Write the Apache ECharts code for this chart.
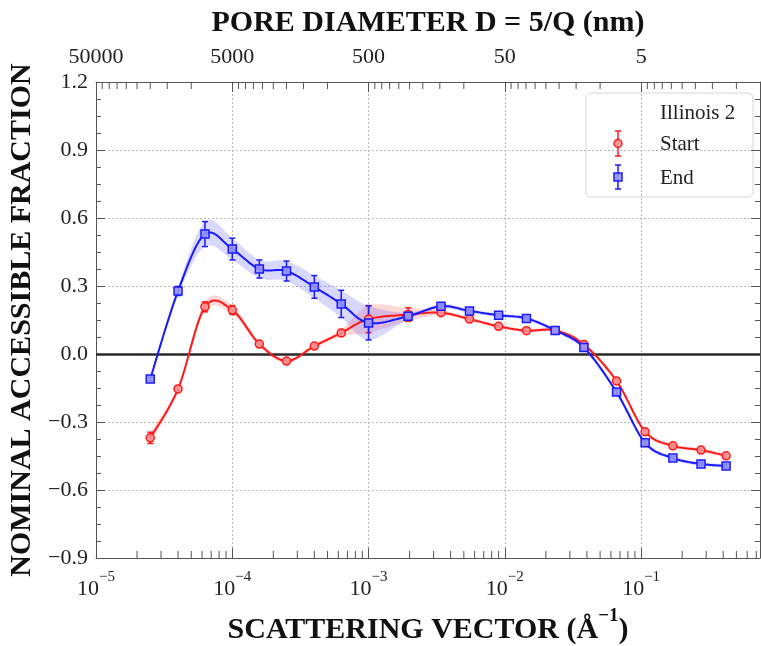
<!DOCTYPE html>
<html>
<head>
<meta charset="utf-8">
<script src="https://cdn.jsdelivr.net/npm/echarts@6/dist/echarts.min.js"></script>
<style>
html, body { margin: 0; padding: 0; background: #fff; }
#chart { width: 761px; height: 646px; }
</style>
</head>
<body>
<div id="chart"></div>
<script>
// Scattering vector Q (1/Å) of each measurement
const q = [2.5e-5, 4e-5, 6.3e-5, 1e-4, 1.58e-4, 2.5e-4, 4e-4, 6.3e-4, 1e-3, 1.95e-3,
           3.4e-3, 5.5e-3, 9e-3, 1.44e-2, 2.34e-2, 3.8e-2, 6.6e-2, 0.107, 0.171, 0.275, 0.42];

// Nominal accessible fraction, start of run
const startVals = [-0.37, -0.154, 0.208, 0.194, 0.044, -0.031, 0.035, 0.093, 0.154, 0.174,
                   0.182, 0.154, 0.122, 0.103, 0.104, 0.042, -0.119, -0.343, -0.405, -0.424, -0.449];
const startErr  = [0.025, 0.012, 0.022, 0.02, 0.012, 0.01, 0.01, 0.015, 0.06, 0.03,
                   0.01, 0.008, 0.008, 0.008, 0.008, 0.008, 0.01, 0.01, 0.008, 0.008, 0.008];

// Nominal accessible fraction, end of run
const endVals = [-0.11, 0.278, 0.529, 0.463, 0.375, 0.366, 0.296, 0.221, 0.137, 0.167,
                 0.211, 0.19, 0.171, 0.157, 0.104, 0.029, -0.168, -0.392, -0.459, -0.485, -0.494];
const endErr  = [0.008, 0.02, 0.055, 0.048, 0.04, 0.044, 0.05, 0.06, 0.075, 0.015,
                 0.01, 0.008, 0.008, 0.008, 0.008, 0.01, 0.01, 0.01, 0.008, 0.008, 0.008];

// Axis ranges and labels
const Q_MIN = 1e-5, Q_MAX = 0.745;
const Y_MIN = -0.9, Y_MAX = 1.2, Y_STEP = 0.3;
const seriesNames = ['Start', 'End'];
const legendTitle = 'Illinois 2';

const RED = '#ff1a1a', BLUE = '#1a1aff';
const RED_FILL = 'rgba(255,150,150,0.9)', BLUE_FILL = 'rgba(150,150,255,0.9)';
const FONT = '"Liberation Serif", "Times New Roman", serif';
const AXIS_COLOR = '#555';

// Minor tick positions: 2..9 × 10^n along Q (bottom), and D = 5/Q multiples along the top
const bottomMinor = [], topMinor = [];
for (let e = -5; e <= 0; e++) {
  for (let m = 2; m <= 9; m++) {
    const b = m * Math.pow(10, e);
    if (b > Q_MIN && b < Q_MAX) bottomMinor.push([b]);
    const t = Math.pow(10, e + 1) / m;
    if (t > Q_MIN && t < Q_MAX) topMinor.push([t]);
  }
}

const zip = (xs, ys) => xs.map((x, i) => [x, ys[i]]);
const decadeExp = v => {
  const l = Math.log10(v);
  return Math.abs(l - Math.round(l)) < 1e-6 ? Math.round(l) : null;
};

// Cubic (Catmull-Rom) interpolation through pixel points, sampled into a dense polyline
function sampleSpline(pts, steps) {
  const out = [pts[0]];
  const n = pts.length;
  for (let i = 0; i < n - 1; i++) {
    const p0 = pts[Math.max(i - 1, 0)], p1 = pts[i], p2 = pts[i + 1], p3 = pts[Math.min(i + 2, n - 1)];
    const c1 = [p1[0] + (p2[0] - p0[0]) / 6, p1[1] + (p2[1] - p0[1]) / 6];
    const c2 = [p2[0] - (p3[0] - p1[0]) / 6, p2[1] - (p3[1] - p1[1]) / 6];
    for (let s = 1; s <= steps; s++) {
      const t = s / steps, u = 1 - t;
      const a = u * u * u, b = 3 * u * u * t, c = 3 * u * t * t, d = t * t * t;
      out.push([a * p1[0] + b * c1[0] + c * c2[0] + d * p2[0],
                a * p1[1] + b * c1[1] + c * c2[1] + d * p2[1]]);
    }
  }
  return out;
}

function curveSeries(vals, color) {
  return {
    type: 'custom', silent: true, z: 3,
    data: [[q[0], vals[0]]], encode: { x: 0, y: 1 },
    renderItem(params, api) {
      const pts = q.map((x, i) => api.coord([x, vals[i]]));
      return {
        type: 'polyline',
        shape: { points: sampleSpline(pts, 16) },
        style: { stroke: color, lineWidth: 2, fill: null, lineJoin: 'round' }
      };
    }
  };
}

function bandSeries(vals, errs, color) {
  return {
    type: 'custom', silent: true, z: 1,
    data: [[q[0], vals[0]]], encode: { x: 0, y: 1 },
    renderItem(params, api) {
      const up = sampleSpline(q.map((x, i) => api.coord([x, vals[i] + errs[i]])), 16);
      const lo = sampleSpline(q.map((x, i) => api.coord([x, vals[i] - errs[i]])), 16);
      return {
        type: 'polygon',
        shape: { points: up.concat(lo.reverse()) },
        style: { fill: color, stroke: null }
      };
    }
  };
}

function errorBarSeries(vals, errs, color) {
  return {
    type: 'custom', silent: true, z: 4,
    data: q.map((x, i) => [x, vals[i], errs[i]]),
    encode: { x: 0, y: 1 },
    renderItem(params, api) {
      const x = api.value(0), y = api.value(1), e = api.value(2);
      const top = api.coord([x, y + e]);
      const bot = api.coord([x, y - e]);
      const cx = top[0], cap = 3;
      const st = { stroke: color, lineWidth: 1.5 };
      return {
        type: 'group',
        children: [
          { type: 'line', shape: { x1: cx, y1: top[1], x2: cx, y2: bot[1] }, style: st },
          { type: 'line', shape: { x1: cx - cap, y1: top[1], x2: cx + cap, y2: top[1] }, style: st },
          { type: 'line', shape: { x1: cx - cap, y1: bot[1], x2: cx + cap, y2: bot[1] }, style: st }
        ]
      };
    }
  };
}

function minorTickSeries(data, atTop, len) {
  return {
    type: 'custom', silent: true, z: 6,
    data: data, encode: { x: 0 },
    renderItem(params, api) {
      const p = api.coord([api.value(0), atTop ? Y_MAX : Y_MIN]);
      const dir = atTop ? 1 : -1;
      return {
        type: 'line',
        shape: { x1: p[0], y1: p[1], x2: p[0], y2: p[1] + dir * len },
        style: { stroke: AXIS_COLOR, lineWidth: 1 }
      };
    }
  };
}

const gridLine = { show: true, lineStyle: { color: '#b8b8b8', type: [2, 2], width: 1 } };

const chart = echarts.init(document.getElementById('chart'), null, { renderer: 'canvas' });

chart.setOption({
  animation: false,
  backgroundColor: '#fff',
  grid: { left: 96, right: 1, top: 82, bottom: 88, outerBoundsMode: 'none', containLabel: false },
  xAxis: [
    {
      type: 'log', logBase: 10, min: Q_MIN, max: Q_MAX, position: 'bottom',
      name: '{t|SCATTERING VECTOR (Å}{s|−1}{t|)}',
      nameLocation: 'middle', nameGap: 49,
      nameTextStyle: {
        rich: {
          t: { fontFamily: FONT, fontSize: 30, fontWeight: 'bold', color: '#111', padding: [8, 0, 0, 0], verticalAlign: 'bottom' },
          s: { fontFamily: FONT, fontSize: 19, fontWeight: 'bold', color: '#111', verticalAlign: 'top' }
        }
      },
      axisLine: { show: true, onZero: false, lineStyle: { color: AXIS_COLOR, width: 1 } },
      axisTick: { show: true, inside: true, length: 10, lineStyle: { color: AXIS_COLOR } },
      axisLabel: {
        margin: 12, showMaxLabel: false,
        formatter(v) {
          const e = decadeExp(v);
          return e === null ? '' : '{b|10}{s|−' + (-e) + '}';
        },
        rich: {
          b: { fontFamily: FONT, fontSize: 22, color: '#222', padding: [8, 0, 0, 0], verticalAlign: 'bottom' },
          s: { fontFamily: FONT, fontSize: 15, color: '#222', verticalAlign: 'top' }
        }
      },
      splitLine: gridLine
    },
    {
      type: 'log', logBase: 10, min: Q_MIN, max: Q_MAX, position: 'top',
      name: 'PORE DIAMETER D = 5/Q (nm)',
      nameLocation: 'middle', nameGap: 44,
      nameTextStyle: { fontFamily: FONT, fontSize: 30, fontWeight: 'bold', color: '#111' },
      axisLine: { show: true, onZero: false, lineStyle: { color: AXIS_COLOR, width: 1 } },
      axisTick: { show: true, inside: true, length: 10, lineStyle: { color: AXIS_COLOR } },
      axisLabel: {
        margin: 14, showMaxLabel: false,
        fontFamily: FONT, fontSize: 22, color: '#222',
        formatter(v) {
          const e = decadeExp(v);
          return e === null ? '' : String(Math.round(0.5 * Math.pow(10, -e)));
        }
      },
      splitLine: { show: false }
    }
  ],
  yAxis: [
    {
      type: 'value', min: Y_MIN, max: Y_MAX, interval: Y_STEP, position: 'left',
      name: 'NOMINAL ACCESSIBLE FRACTION',
      nameLocation: 'middle', nameGap: 44,
      nameTextStyle: { fontFamily: FONT, fontSize: 30, fontWeight: 'bold', color: '#111' },
      axisLine: { show: true, onZero: false, lineStyle: { color: AXIS_COLOR, width: 1 } },
      axisTick: { show: true, inside: true, length: 9, lineStyle: { color: AXIS_COLOR } },
      minorTick: { show: true, splitNumber: 4, length: 5, lineStyle: { color: AXIS_COLOR } },
      axisLabel: {
        margin: 8, fontFamily: FONT, fontSize: 22, color: '#222',
        formatter: v => v.toFixed(1).replace('-', '−')
      },
      splitLine: gridLine
    },
    {
      type: 'value', min: Y_MIN, max: Y_MAX, interval: Y_STEP, position: 'right',
      axisLine: { show: true, onZero: false, lineStyle: { color: AXIS_COLOR, width: 1 } },
      axisTick: { show: true, inside: true, length: 9, lineStyle: { color: AXIS_COLOR } },
      minorTick: { show: true, splitNumber: 4, length: 5, lineStyle: { color: AXIS_COLOR } },
      axisLabel: { show: false },
      splitLine: { show: false }
    }
  ],
  series: [
    bandSeries(startVals, startErr, 'rgba(255,60,60,0.2)'),
    bandSeries(endVals, endErr, 'rgba(60,60,255,0.2)'),
    curveSeries(startVals, RED),
    curveSeries(endVals, BLUE),
    {
      type: 'scatter', name: seriesNames[0], data: zip(q, startVals), z: 5,
      symbol: 'circle', symbolSize: 8,
      itemStyle: { color: RED_FILL, borderColor: RED, borderWidth: 1.5, opacity: 1 },
      markLine: {
        silent: true, symbol: 'none', label: { show: false },
        lineStyle: { color: '#2a2a2a', width: 2.5, type: 'solid' },
        data: [{ yAxis: 0 }], z: 2
      }
    },
    {
      type: 'scatter', name: seriesNames[1], data: zip(q, endVals), z: 5,
      symbol: 'rect', symbolSize: 8,
      itemStyle: { color: BLUE_FILL, borderColor: BLUE, borderWidth: 1.5, opacity: 1 }
    },
    errorBarSeries(startVals, startErr, RED),
    errorBarSeries(endVals, endErr, BLUE),
    minorTickSeries(bottomMinor, false, 7),
    minorTickSeries(topMinor, true, 7)
  ],
  graphic: [
    {
      type: 'group', z: 100,
      children: [
        { type: 'rect', shape: { x: 586, y: 93, width: 167, height: 104, r: 5 },
          style: { fill: 'rgba(255,255,255,0.9)', stroke: '#d6d6d6', lineWidth: 1 } },
        { type: 'text', x: 660, y: 113, style: { text: legendTitle, font: '21px ' + FONT, fill: '#222', verticalAlign: 'middle' } },
        { type: 'text', x: 660, y: 144, style: { text: seriesNames[0], font: '21px ' + FONT, fill: '#222', verticalAlign: 'middle' } },
        { type: 'text', x: 660, y: 178, style: { text: seriesNames[1], font: '21px ' + FONT, fill: '#222', verticalAlign: 'middle' } },
        { type: 'line', shape: { x1: 618, y1: 131, x2: 618, y2: 156 }, style: { stroke: RED, lineWidth: 1.5 } },
        { type: 'line', shape: { x1: 615, y1: 131, x2: 621, y2: 131 }, style: { stroke: RED, lineWidth: 1.5 } },
        { type: 'line', shape: { x1: 615, y1: 156, x2: 621, y2: 156 }, style: { stroke: RED, lineWidth: 1.5 } },
        { type: 'circle', shape: { cx: 618, cy: 143.5, r: 4 }, style: { fill: RED_FILL, stroke: RED, lineWidth: 1.5 } },
        { type: 'line', shape: { x1: 618, y1: 165, x2: 618, y2: 189 }, style: { stroke: BLUE, lineWidth: 1.5 } },
        { type: 'line', shape: { x1: 615, y1: 165, x2: 621, y2: 165 }, style: { stroke: BLUE, lineWidth: 1.5 } },
        { type: 'line', shape: { x1: 615, y1: 189, x2: 621, y2: 189 }, style: { stroke: BLUE, lineWidth: 1.5 } },
        { type: 'rect', shape: { x: 614, y: 173, width: 8, height: 8 }, style: { fill: BLUE_FILL, stroke: BLUE, lineWidth: 1.5 } }
      ]
    }
  ]
});
</script>
</body>
</html>
